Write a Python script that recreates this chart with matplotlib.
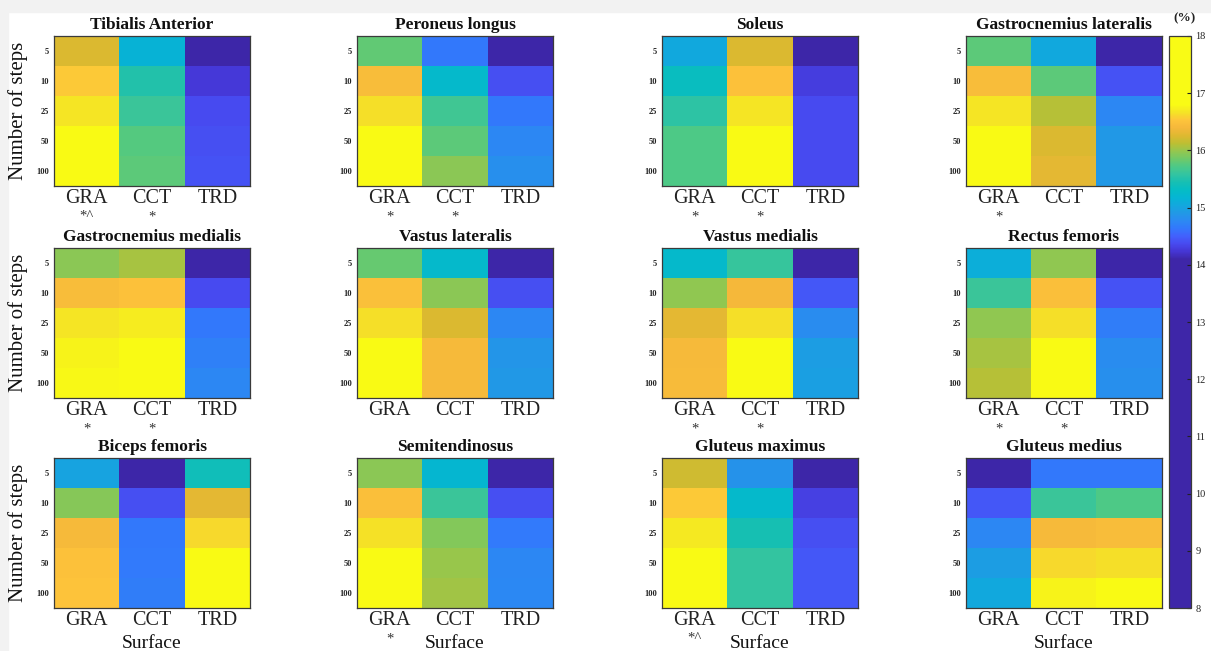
import numpy as np
import matplotlib
matplotlib.use('Agg')
import matplotlib.pyplot as plt
from matplotlib.colors import ListedColormap, Normalize
from matplotlib.patches import Rectangle
import matplotlib.transforms as mtransforms

plt.rcParams['font.family'] = ['Liberation Serif', 'DejaVu Serif']

# ---------------- data ----------------
surfaces = ['GRA', 'CCT', 'TRD']
steps = ['5', '10', '25', '50', '100']

muscle_titles = ['Tibialis Anterior', 'Peroneus longus', 'Soleus', 'Gastrocnemius lateralis',
                 'Gastrocnemius medialis', 'Vastus lateralis', 'Vastus medialis', 'Rectus femoris',
                 'Biceps femoris', 'Semitendinosus', 'Gluteus maximus', 'Gluteus medius']

tibialis_anterior = [[16.25, 15.15, 13.8], [16.55, 15.50, 14.25], [16.68, 15.62, 14.37],
                     [17.00, 15.75, 14.40], [17.20, 15.78, 14.42]]
peroneus_longus = [[15.80, 14.65, 13.8], [16.45, 15.25, 14.40], [16.65, 15.65, 14.65],
                   [16.80, 15.78, 14.75], [17.20, 15.95, 14.82]]
soleus = [[15.05, 16.25, 13.8], [15.35, 16.50, 14.28], [15.55, 16.68, 14.37],
          [15.72, 17.30, 14.37], [15.72, 17.30, 14.37]]
gastroc_lateralis = [[15.78, 15.05, 13.8], [16.45, 15.78, 14.42], [16.68, 16.10, 14.75],
                     [17.00, 16.25, 14.90], [17.20, 16.30, 14.90]]
gastroc_medialis = [[15.95, 16.05, 13.8], [16.45, 16.50, 14.37], [16.68, 16.72, 14.65],
                    [16.75, 17.20, 14.70], [16.78, 17.30, 14.75]]
vastus_lateralis = [[15.82, 15.25, 13.8], [16.48, 15.95, 14.40], [16.65, 16.25, 14.75],
                    [16.85, 16.42, 14.88], [17.20, 16.42, 14.90]]
vastus_medialis = [[15.25, 15.60, 13.8], [15.97, 16.40, 14.45], [16.30, 16.65, 14.80],
                   [16.42, 17.00, 14.95], [16.43, 17.20, 14.97]]
rectus_femoris = [[15.10, 15.97, 13.8], [15.62, 16.47, 14.42], [15.97, 16.65, 14.68],
                  [16.05, 17.00, 14.80], [16.10, 17.20, 14.82]]
biceps_femoris = [[15.00, 13.8, 15.40], [15.93, 14.40, 16.30], [16.42, 14.65, 16.62],
                  [16.50, 14.66, 16.90], [16.52, 14.68, 17.30]]
semitendinosus = [[15.95, 15.20, 13.8], [16.47, 15.62, 14.40], [16.66, 15.92, 14.66],
                  [17.10, 16.00, 14.75], [17.30, 16.03, 14.76]]
gluteus_maximus = [[16.20, 14.85, 13.8], [16.55, 15.25, 14.30], [16.70, 15.45, 14.40],
                   [17.10, 15.58, 14.45], [17.30, 15.58, 14.45]]
gluteus_medius = [[13.8, 14.65, 14.65], [14.45, 15.62, 15.72], [14.75, 16.42, 16.45],
                  [14.95, 16.62, 16.65], [15.05, 16.75, 17.00]]

muscle_values = [tibialis_anterior, peroneus_longus, soleus, gastroc_lateralis,
                 gastroc_medialis, vastus_lateralis, vastus_medialis, rectus_femoris,
                 biceps_femoris, semitendinosus, gluteus_maximus, gluteus_medius]

significance_marks = [['*^', '*', ''], ['*', '*', ''], ['*', '*', ''], ['*', '', ''],
                      ['*', '*', ''], ['', '', ''], ['*', '*', ''], ['*', '*', ''],
                      ['', '', ''], ['*', '', ''], ['*^', '', ''], ['', '', '']]

cbar_ticks = [8, 9, 10, 11, 12, 13, 14, 15, 16, 17, 18]
vmin, vmax = 8, 18

# ---------------- colormap (parula squeezed into upper range) ----------------
parula_anchors = [
    (0.00, (0.2422, 0.1504, 0.6603)), (0.05, (0.2700, 0.2100, 0.8300)),
    (0.10, (0.2810, 0.2900, 0.9400)), (0.15, (0.2600, 0.3800, 0.9900)),
    (0.20, (0.2000, 0.4700, 0.9900)), (0.25, (0.1700, 0.5400, 0.9500)),
    (0.30, (0.1300, 0.6000, 0.9000)), (0.35, (0.0700, 0.6600, 0.8700)),
    (0.40, (0.0200, 0.7100, 0.8300)), (0.45, (0.0200, 0.7400, 0.7700)),
    (0.50, (0.0900, 0.7500, 0.7000)), (0.55, (0.2000, 0.7700, 0.6300)),
    (0.60, (0.3000, 0.7900, 0.5300)), (0.65, (0.4400, 0.7900, 0.4100)),
    (0.70, (0.5800, 0.7800, 0.3100)), (0.75, (0.7400, 0.7500, 0.2000)),
    (0.80, (0.8700, 0.7250, 0.1900)), (0.85, (0.9600, 0.7200, 0.2300)),
    (0.90, (0.9950, 0.7700, 0.2300)), (0.95, (0.9600, 0.8900, 0.1500)),
    (1.00, (0.9769, 0.9839, 0.0805))]
par_lo, par_hi = 14.1, 16.8
ap = np.array([a[0] for a in parula_anchors])
ac = np.array([a[1] for a in parula_anchors])
vals = np.linspace(vmin, vmax, 1024)
fr = np.clip((vals - par_lo) / (par_hi - par_lo), 0, 1)
cols = np.stack([np.interp(fr, ap, ac[:, k]) for k in range(3)], axis=1)
cmap = ListedColormap(cols)
norm = Normalize(vmin=vmin, vmax=vmax)

# ---------------- figure ----------------
W, H = 1211, 651
fig = plt.figure(figsize=(W / 100, H / 100), dpi=100)
fig.patches.append(Rectangle((0, 1 - 12 / H), 1, 12 / H, transform=fig.transFigure,
                             color='#f2f2f2', zorder=-10))
fig.patches.append(Rectangle((0, 0), 8 / W, 1, transform=fig.transFigure,
                             color='#f2f2f2', zorder=-10))

col_left = [54, 357, 662, 966]
row_top = [36, 248, 458]
aw, ah = 196, 150

for i, (title, data, marks) in enumerate(zip(muscle_titles, muscle_values, significance_marks)):
    r, c = divmod(i, 4)
    l, t = col_left[c], row_top[r]
    ax = fig.add_axes([l / W, 1 - (t + ah) / H, aw / W, ah / H])
    ax.imshow(np.array(data), cmap=cmap, norm=norm, aspect='auto', interpolation='nearest')
    ax.set_xticks(range(len(surfaces)))
    ax.set_xticklabels(surfaces, fontsize=14.5)
    ax.set_yticks(range(len(steps)))
    ax.set_yticklabels(steps, fontsize=6, fontweight='bold')
    ax.tick_params(axis='x', length=0, pad=2.5, colors='#222222')
    ax.tick_params(axis='y', length=0, pad=3.5, colors='#222222')
    for sp in ax.spines.values():
        sp.set_color('#3a3a3a')
        sp.set_linewidth(0.9)
    ax.set_title(title, fontsize=12.5, fontweight='bold', pad=5, color='#111111')
    trans = mtransforms.blended_transform_factory(ax.transData, ax.transAxes)
    for j, m in enumerate(marks):
        if m:
            ax.text(j, -0.205, m, transform=trans, ha='center', va='center',
                    fontsize=10.5, color='#333333')
    if c == 0:
        ax.set_ylabel('Number of steps', fontsize=15, labelpad=6, color='#111111')
    if r == 2:
        ax.text(0.5, -(644 - 608) / ah, 'Surface', transform=ax.transAxes,
                ha='center', va='center', fontsize=14, color='#111111')

# colorbar
cax = fig.add_axes([1169 / W, 1 - 608 / H, 22 / W, 572 / H])
sm = plt.cm.ScalarMappable(norm=norm, cmap=cmap)
cb = fig.colorbar(sm, cax=cax, ticks=cbar_ticks)
cb.ax.tick_params(labelsize=7.5, length=3, direction='in', pad=3, colors='#222222')
cb.outline.set_edgecolor('#3a3a3a')
cb.outline.set_linewidth(0.9)
fig.text(1185 / W, 1 - 18 / H, '(%)', ha='center', va='center', fontsize=9.5,
         fontweight='bold', color='#222222')

fig.savefig('out.png', dpi=100)
